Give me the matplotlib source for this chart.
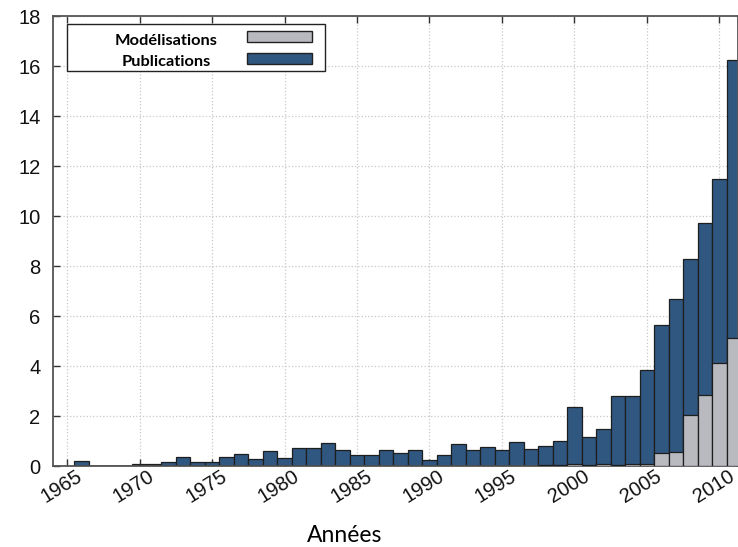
import matplotlib
matplotlib.use("Agg")
import matplotlib.pyplot as plt
import matplotlib.transforms as mtransforms
from matplotlib.patches import Rectangle
import numpy as np

# Nombre de publications / modélisations par année
annees = list(range(1966, 2012))
publications = [0.2, 0, 0, 0, 0.1, 0.1, 0.18, 0.35, 0.17, 0.17,
                0.35, 0.47, 0.29, 0.59, 0.33, 0.73, 0.73, 0.93, 0.64, 0.45,
                0.45, 0.64, 0.51, 0.64, 0.24, 0.44, 0.87, 0.64, 0.75, 0.64,
                0.97, 0.68, 0.8, 0.99, 2.35, 1.16, 1.49, 2.81, 2.81, 3.85,
                5.64, 6.67, 8.27, 9.71, 11.48, 16.24]
modelisations = [0, 0, 0, 0, 0, 0, 0, 0, 0, 0,
                 0, 0, 0, 0, 0, 0, 0, 0, 0, 0,
                 0, 0, 0, 0, 0, 0, 0, 0, 0, 0,
                 0, 0.02, 0.05, 0.03, 0.1, 0.05, 0.1, 0.05, 0.08, 0.08,
                 0.51, 0.56, 2.04, 2.85, 4.12, 5.14]
xticks = list(range(1965, 2011, 5))
yticks = list(range(0, 19, 2))
noms = ['Modélisations', 'Publications']

bleu = '#305780'
gris = '#b9bac0'
bord = '#1e1e1e'

plt.rcParams['font.family'] = ['Liberation Sans', 'DejaVu Sans']

fig = plt.figure(figsize=(7.38, 5.47), dpi=100)
ax = fig.add_axes([53/738, 1-466/547, 685/738, 450/547])

ax.bar(annees, publications, width=1, color=bleu, edgecolor=bord, linewidth=0.9, zorder=2)
ax.bar(annees, modelisations, width=1, color=gris, edgecolor=bord, linewidth=0.9, zorder=3)

ax.set_xlim(1964.03, 2011.28)
ax.set_ylim(0, 18)
ax.set_yticks(yticks, [str(v) for v in yticks])
ax.set_xticks(xticks, [str(v) for v in xticks], rotation=32, ha='right', va='top',
              rotation_mode='anchor')
ax.grid(True, linestyle=':', color='#c8c8c8', linewidth=0.9)
ax.set_axisbelow(True)

for s in ax.spines.values():
    s.set_color('#555555')
    s.set_linewidth(1.3)

ax.tick_params(direction='in', length=5, width=1, color='#333333',
               top=True, labelsize=14.5, labelcolor='#111111')
ax.tick_params(axis='y', pad=9)
ax.tick_params(axis='x', pad=0.5)

decal = mtransforms.ScaledTranslation(8/100, 0, fig.dpi_scale_trans)
for lab in ax.get_xticklabels():
    lab.set_transform(lab.get_transform() + decal)

fig.text(345/738, 1-542/547, 'Années', ha='center', va='baseline',
         family='Lato', fontsize=16.5)

# legende dessinee a la main (texte centre, carre a droite)
ax.add_patch(Rectangle((14/685, (466-71)/450), 258/685, 47/450, transform=ax.transAxes,
                       facecolor='white', edgecolor='#222222', linewidth=1, zorder=5))
for i, (nom, c) in enumerate(zip(noms, [gris, bleu])):
    yb = (466 - (45 + 21*i))/450
    ax.text(113/685, yb, nom, transform=ax.transAxes, ha='center', va='baseline',
            family='Lato', fontweight='bold', fontsize=11.8, zorder=6)
    yp = (466 - (42 + 22*i))/450
    ax.add_patch(Rectangle((194/685, yp), 65/685, 11/450, transform=ax.transAxes,
                           facecolor=c, edgecolor='#222222', linewidth=1, zorder=6))

fig.savefig('out.png', dpi=100)
